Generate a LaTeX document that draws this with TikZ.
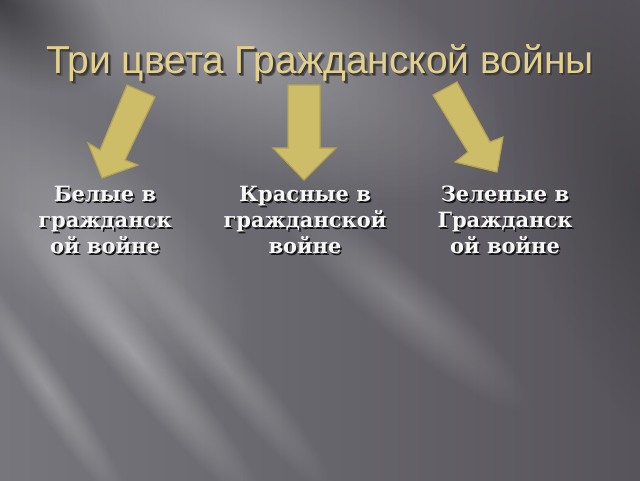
\documentclass[tikz,border=0pt]{standalone}
\usepackage{fontspec}
\setmainfont{DejaVu Serif}
\newfontfamily\titlefont{Liberation Sans}
\newfontfamily\labelfont{DejaVu Serif}
\usetikzlibrary{fadings}
\definecolor{bgL}{HTML}{76767C}
\definecolor{bgR}{HTML}{57555B}
\definecolor{arrowfill}{HTML}{CDBC68}
\definecolor{arrowline}{HTML}{B3A254}
\definecolor{titlecol}{HTML}{E2D08C}
\definecolor{titleshadowA}{HTML}{3A3A3E}
\definecolor{titleshadowB}{HTML}{55555A}
\definecolor{labelcol}{HTML}{F6F6F6}
\definecolor{labelshadowcol}{HTML}{151515}
\newcommand\lblshadow[1]{\leavevmode\rlap{\kern1.6pt\raisebox{-1.6pt}{\textcolor{labelshadowcol}{#1}}}#1}
\newcommand\ttlshadow[1]{\leavevmode\rlap{\kern3pt\raisebox{-3.5pt}{\textcolor{titleshadowB}{#1}}}\rlap{\kern1.8pt\raisebox{-2.2pt}{\textcolor{titleshadowA}{#1}}}#1}
\tikzfading[name=softglow, inner color=transparent!0, outer color=transparent!100]
\tikzset{
  arrowshape/.style={fill=arrowfill, draw=arrowline, line width=1.2pt, line join=miter},
  labeltxt/.style={font=\labelfont\bfseries\fontsize{21}{26}\selectfont, text=labelcol, align=center, inner sep=0pt, anchor=north},
  titletxt/.style={font=\titlefont\fontsize{39}{42}\selectfont, text=titlecol, inner sep=0pt, anchor=base},
  glowfill/.style={white, path fading=softglow}
}
\begin{document}
\begin{tikzpicture}[x=1pt,y=-1pt]
\useasboundingbox (0,0) rectangle (640,480);
% background
\shade[left color=bgL, right color=bgR] (0,0) rectangle (640,480);
\begin{scope}
\clip (0,0) rectangle (640,480);
% upper light region
\begin{scope}[transform canvas={shift={(240,40)}, rotate=-25}]
  \fill[glowfill, opacity=0.32] (-290,-120) rectangle (290,120);
\end{scope}
% left mid light
\begin{scope}[transform canvas={shift={(90,240)}, rotate=-40}]
  \fill[glowfill, opacity=0.25] (-200,-90) rectangle (200,90);
\end{scope}
% dark top-left corner
\begin{scope}[transform canvas={shift={(0,0)}, rotate=-35}]
  \fill[black, path fading=softglow, opacity=0.45] (-130,-70) rectangle (130,70);
\end{scope}
% dark right side
\begin{scope}[transform canvas={shift={(640,200)}, rotate=-70}]
  \fill[black, path fading=softglow, opacity=0.2] (-300,-120) rectangle (300,120);
\end{scope}
% lower-left streaks
\begin{scope}[transform canvas={shift={(135,355)}, rotate=-50}]
  \fill[glowfill, opacity=0.3] (-200,-28) rectangle (200,28);
\end{scope}
\begin{scope}[transform canvas={shift={(45,385)}, rotate=-56}]
  \fill[glowfill, opacity=0.25] (-150,-20) rectangle (150,20);
\end{scope}
\begin{scope}[transform canvas={shift={(225,365)}, rotate=-50}]
  \fill[glowfill, opacity=0.2] (-170,-24) rectangle (170,24);
\end{scope}
\begin{scope}[transform canvas={shift={(400,300)}, rotate=-40}]
  \fill[glowfill, opacity=0.2] (-170,-34) rectangle (170,34);
\end{scope}
\end{scope}
% title
\node[titletxt] (title) at (320,73) {\ttlshadow{Три цвета Гражданской войны}};
% arrows
\draw[arrowshape] (127,85) -- (155,97) -- (125,160) -- (138,165) -- (102,178) -- (88,143) -- (100,150) -- cycle;
\draw[arrowshape] (288,85) -- (320,85) -- (320,148) -- (336,148) -- (304,180) -- (273,148) -- (288,148) -- cycle;
\draw[arrowshape] (433,95) -- (457,82) -- (490,142) -- (503,137) -- (497,172) -- (455,162) -- (468,152) -- cycle;
% labels
\node[labeltxt] (white) at (105,186) {\lblshadow{Белые в}\\\lblshadow{гражданск}\\\lblshadow{ой войне}};
\node[labeltxt] (red) at (305,186) {\lblshadow{Красные в}\\\lblshadow{гражданской}\\\lblshadow{войне}};
\node[labeltxt] (green) at (505,186) {\lblshadow{Зеленые в}\\\lblshadow{Гражданск}\\\lblshadow{ой войне}};
\end{tikzpicture}
\end{document}
